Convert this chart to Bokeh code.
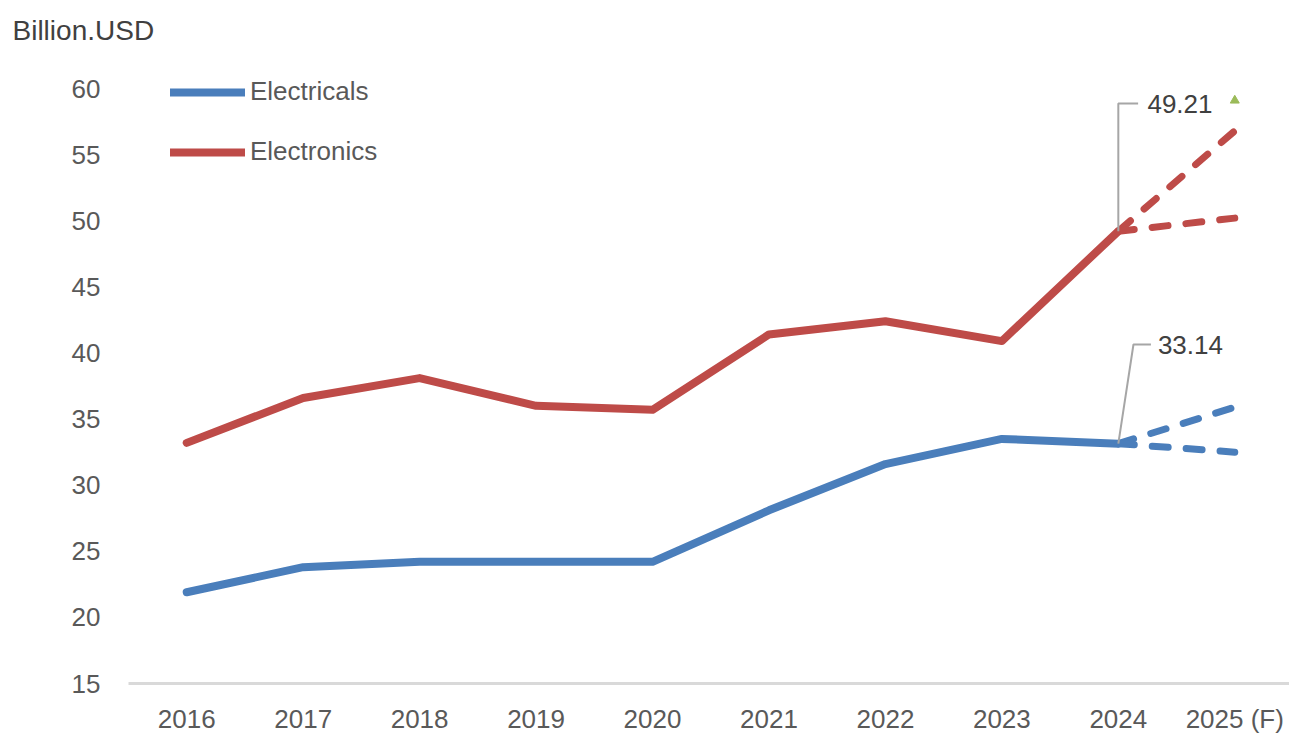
from bokeh.plotting import figure
from bokeh.models import Range1d, FixedTicker, Legend, LegendItem
from bokeh.embed import file_html
from bokeh.resources import INLINE
from bokeh.core.properties import value

years = ["2016", "2017", "2018", "2019", "2020", "2021", "2022", "2023", "2024", "2025 (F)"]
electricals = [21.9, 23.8, 24.2, 24.2, 24.2, 28.1, 31.6, 33.5, 33.14]
electronics = [33.2, 36.6, 38.1, 36.0, 35.7, 41.4, 42.4, 40.9, 49.21]
electricals_fc_high = [33.14, 35.9]
electricals_fc_low = [33.14, 32.5]
electronics_fc_high = [49.21, 56.8]
electronics_fc_low = [49.21, 50.2]
marker_green = [59.1]
y_ticks = [15, 20, 25, 30, 35, 40, 45, 50, 55, 60]

BLUE = "#4A7EBB"
RED = "#BE4B48"
FONT = "Liberation Sans"
TXT = "#595959"

xs = list(range(len(electricals)))
fc_x = [len(electricals) - 1, len(electricals)]

p = figure(width=1289, height=737, output_backend="svg", toolbar_location=None,
           x_range=Range1d(-0.5, 9.47), y_range=Range1d(15, 62.35),
           min_border_left=128, min_border_right=0, min_border_top=0, min_border_bottom=54,
           title="Billion.USD")
p.outline_line_color = None
p.xgrid.visible = False
p.ygrid.visible = False

p.title.align = "left"
p.title.offset = -116
p.title.standoff = 24
p.title.text_font = FONT
p.title.text_font_size = "28px"
p.title.text_font_style = "normal"
p.title.text_color = "#404040"

# axes
p.xaxis.ticker = FixedTicker(ticks=list(range(len(years))))
p.xaxis.major_label_overrides = {i: y for i, y in enumerate(years)}
p.xaxis.axis_line_color = "#D9D9D9"
p.xaxis.axis_line_width = 3
p.xaxis.major_tick_line_color = None
p.xaxis.minor_tick_line_color = None
p.xaxis.major_tick_out = 0
p.xaxis.major_tick_in = 0
p.xaxis.major_label_standoff = 20
p.xaxis.major_label_text_font = FONT
p.xaxis.major_label_text_font_size = "26px"
p.xaxis.major_label_text_color = TXT

p.yaxis.ticker = FixedTicker(ticks=y_ticks)
p.yaxis.axis_line_color = None
p.yaxis.major_tick_line_color = None
p.yaxis.minor_tick_line_color = None
p.yaxis.major_tick_out = 0
p.yaxis.major_tick_in = 0
p.yaxis.major_label_standoff = 28
p.yaxis.major_label_text_font = FONT
p.yaxis.major_label_text_font_size = "26px"
p.yaxis.major_label_text_color = TXT

# lines
r_el = p.line(xs, electricals, line_color=BLUE, line_width=8, line_join="round", line_cap="round")
r_ec = p.line(xs, electronics, line_color=RED, line_width=8, line_join="round", line_cap="round")
for ys, c in [(electricals_fc_high, BLUE), (electricals_fc_low, BLUE),
              (electronics_fc_high, RED), (electronics_fc_low, RED)]:
    p.line(fc_x, ys, line_color=c, line_width=7, line_dash="16 18", line_cap="round")

p.scatter([len(electricals)], marker_green, marker="triangle", size=9, color="#9BBB59")

# leaders + labels
last = len(electricals) - 1
ec_last = electronics[-1]
el_last = electricals[-1]
ec_lab_y = 58.87
el_lab_y = 40.64
p.line([last, last, last + 0.17], [ec_last, ec_lab_y, ec_lab_y], line_color="#A6A6A6", line_width=2)
p.line([last, last + 0.13, last + 0.28], [el_last, el_lab_y, el_lab_y], line_color="#A6A6A6", line_width=2)
p.text([last + 0.25], [ec_lab_y], text=[f"{ec_last:.2f}"], text_font=value(FONT),
       text_font_size="26px", text_color="#404040", text_baseline="middle", text_align="left")
p.text([last + 0.34], [el_lab_y], text=[f"{el_last:.2f}"], text_font=value(FONT),
       text_font_size="26px", text_color="#404040", text_baseline="middle", text_align="left")

legend = Legend(items=[LegendItem(label="Electricals", renderers=[r_el]),
                       LegendItem(label="Electronics", renderers=[r_ec])],
                location=(42, 516), glyph_width=75, glyph_height=30, spacing=29,
                padding=0, margin=0, label_standoff=5, border_line_color=None,
                background_fill_alpha=0, label_text_font=FONT,
                label_text_font_size="26px", label_text_color=TXT)
p.add_layout(legend)

open("out.html", "w").write(file_html(p, INLINE))
